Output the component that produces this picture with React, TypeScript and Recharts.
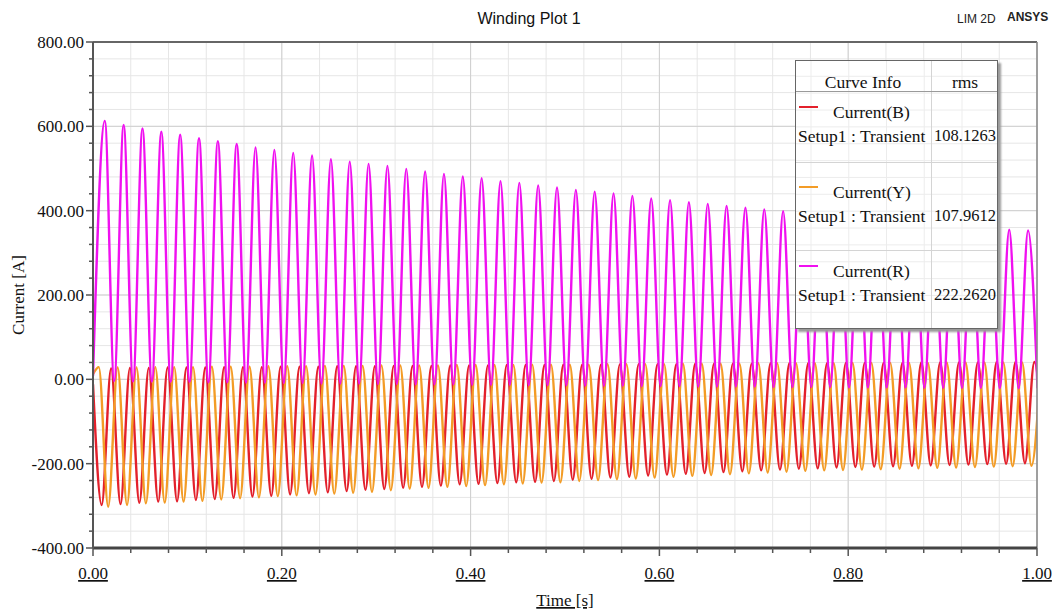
import React from 'react'
import { LineChart, Line, XAxis, YAxis, CartesianGrid, ReferenceLine } from 'recharts'

// cycle timing (50 Hz winding currents)
const PERIOD = 0.01996
const R_PEAK0 = 0.0125
const B_SHIFT = -0.0033
const Y_SHIFT = 0.0036

// Current(R): peak and following trough of every cycle
const rStart = 8
const rPeaks = [
  613, 603, 595, 587, 580, 572, 565, 558, 550, 544,
  537, 531, 522, 516, 511, 506, 499, 493, 487, 481,
  477, 470, 466, 460, 455, 449, 445, 441, 435, 429,
  425, 420, 416, 411, 407, 403, 399, 395, 391, 387,
  383, 379, 375, 372, 368, 365, 362, 359, 355, 353,
]
const rTroughs = [
  -4, -5, -5, -6, -6, -7, -7, -8, -8, -9,
  -9, -10, -10, -10, -11, -11, -12, -12, -12, -13,
  -13, -13, -14, -14, -14, -15, -15, -15, -16, -16,
  -16, -17, -17, -17, -17, -18, -18, -18, -18, -19,
  -19, -19, -19, -20, -20, -20, -20, -21, -21, -21,
]

// Current(B): trough and following peak of every cycle
const bStart = -12
const bTroughs = [
  -298, -296, -293, -290, -289, -286, -284, -281, -278, -276,
  -273, -270, -268, -265, -262, -260, -257, -255, -252, -249,
  -248, -246, -244, -243, -241, -238, -236, -233, -231, -228,
  -226, -224, -222, -220, -218, -216, -214, -212, -211, -209,
  -208, -207, -206, -205, -204, -203, -202, -201, -200, -199,
  -198,
]
const bPeaks = [
  26, 27, 27, 28, 28, 28, 29, 29, 29, 30,
  30, 30, 31, 31, 31, 32, 32, 32, 33, 33,
  33, 34, 34, 34, 35, 35, 35, 35, 36, 36,
  36, 37, 37, 37, 37, 38, 38, 38, 38, 39,
  39, 39, 39, 40, 40, 40, 40, 41, 41, 41,
]

// Current(Y): peak and following trough of every cycle
const yStart = 12
const yPeaks = [
  29, 28, 28, 29, 29, 29, 30, 30, 30, 31,
  31, 31, 32, 32, 32, 33, 33, 33, 33, 34,
  34, 34, 34, 35, 35, 35, 35, 36, 36, 36,
  36, 37, 37, 37, 37, 38, 38, 38, 38, 38,
  39, 39, 39, 39, 39, 40, 40, 40, 40, 40,
  40,
]
const yTroughs = [
  -302, -298, -294, -292, -290, -288, -285, -282, -280, -277,
  -275, -273, -271, -269, -267, -263, -259, -257, -255, -253,
  -251, -249, -247, -245, -244, -241, -239, -237, -235, -233,
  -231, -229, -227, -225, -223, -221, -219, -217, -216, -215,
  -214, -213, -212, -211, -210, -209, -208, -207, -206, -205,
]

const xTicks = [
  0, 0.04, 0.08, 0.12, 0.16, 0.2, 0.24, 0.28, 0.32, 0.36, 0.4, 0.44, 0.48,
  0.52, 0.56, 0.6, 0.64, 0.68, 0.72, 0.76, 0.8, 0.84, 0.88, 0.92, 0.96, 1,
]
const xMajor = [0, 0.2, 0.4, 0.6, 0.8, 1]
const yTicks = [
  -400, -360, -320, -280, -240, -200, -160, -120, -80, -40, 0, 40, 80, 120,
  160, 200, 240, 280, 320, 360, 400, 440, 480, 520, 560, 600, 640, 680, 720, 760, 800,
]
const yMajor = [-400, -200, 0, 200, 400, 600, 800]

const legendRows = [
  { name: 'Current(B)', color: '#e3202b', rms: '108.1263' },
  { name: 'Current(Y)', color: '#f39c26', rms: '107.9612' },
  { name: 'Current(R)', color: '#f010f0', rms: '222.2620' },
]

type Row = { t: number; r?: number; b?: number; y?: number }

function buildRows(): Row[] {
  const rows: Row[] = [{ t: 0, r: rStart }, { t: 0, b: bStart }, { t: 0, y: yStart }]
  rPeaks.forEach((v, k) => {
    const t = R_PEAK0 + k * PERIOD
    rows.push({ t, r: v })
    rows.push({ t: t + PERIOD / 2, r: rTroughs[k] })
  })
  bTroughs.forEach((v, k) => {
    const t = R_PEAK0 + B_SHIFT + k * PERIOD
    rows.push({ t, b: v })
    if (k < bPeaks.length) rows.push({ t: t + PERIOD / 2, b: bPeaks[k] })
  })
  yPeaks.forEach((v, k) => {
    const t = R_PEAK0 + Y_SHIFT - PERIOD / 2 + k * PERIOD
    rows.push({ t, y: v })
    if (k < yTroughs.length) rows.push({ t: t + PERIOD / 2, y: yTroughs[k] })
  })
  return rows.sort((a, b) => a.t - b.t)
}

const data = buildRows()
const serif = '"Liberation Serif", "Times New Roman", serif'
const sans = '"Liberation Sans", Arial, sans-serif'

const isMajorX = (v: number) => xMajor.some((m) => Math.abs(m - v) < 1e-6)

function XTick({ x, y, payload }: any) {
  const major = isMajorX(payload.value)
  return (
    <g>
      <line x1={x} x2={x} y1={y} y2={y + (major ? 8 : 5)} stroke="#555" strokeWidth={1.5} />
      {major && (
        <text
          x={x}
          y={y + 31}
          textAnchor="middle"
          fontFamily={serif}
          fontSize={17}
          fill="#111"
          textDecoration="underline"
        >
          {payload.value.toFixed(2)}
        </text>
      )}
    </g>
  )
}

function YTick({ x, y, payload }: any) {
  const major = yMajor.includes(payload.value)
  return (
    <g>
      <line x1={x} x2={x - (major ? 7 : 4)} y1={y} y2={y} stroke="#555" strokeWidth={1.5} />
      {major && (
        <text x={x - 9} y={y + 6} textAnchor="end" fontFamily={serif} fontSize={17} fill="#111">
          {payload.value.toFixed(2)}
        </text>
      )}
    </g>
  )
}

function Legend() {
  const txt = (left: number, top: number, s: string, extra: any = {}) => (
    <div
      style={{
        position: 'absolute',
        left,
        top: top - 10,
        lineHeight: '20px',
        whiteSpace: 'nowrap',
        ...extra,
      }}
    >
      {s}
    </div>
  )
  const rowTops = [0, 80, 159]
  return (
    <div
      style={{
        position: 'absolute',
        left: 795,
        top: 60,
        width: 203,
        height: 269,
        boxSizing: 'border-box',
        border: '1px solid #666',
        background: '#fff',
        backgroundImage:
          'linear-gradient(90deg, #ececec 1px, transparent 1px), linear-gradient(180deg, #ececec 1px, transparent 1px)',
        backgroundSize: '37.76px 100%, 100% 16.87px',
        backgroundPosition: '14.5px 0, 0 14.8px',
        boxShadow: '3px 3px 2px #9a9a9a',
        fontFamily: serif,
        fontSize: 17.5,
        color: '#111',
      }}
    >
      <div style={{ position: 'absolute', left: 135, top: 0, bottom: 0, width: 1, background: '#d4d4d4' }} />
      <div style={{ position: 'absolute', left: 0, right: 0, top: 30, height: 1, background: '#9a9a9a' }} />
      <div style={{ position: 'absolute', left: 0, right: 0, top: 101, height: 1, background: '#d4d4d4' }} />
      <div style={{ position: 'absolute', left: 0, right: 0, top: 189, height: 1, background: '#d4d4d4' }} />
      {txt(0, 21, 'Curve Info', { width: 134, textAlign: 'center' })}
      {txt(136, 21, 'rms', { width: 66, textAlign: 'center' })}
      {legendRows.map((row, i) => (
        <React.Fragment key={row.name}>
          <div
            style={{
              position: 'absolute',
              left: 3,
              top: 45 + rowTops[i],
              width: 19,
              height: 2,
              background: row.color,
            }}
          />
          {txt(37, 51 + rowTops[i], row.name)}
          {txt(2, 75 + rowTops[i], 'Setup1 : Transient')}
          {txt(138, 75 + rowTops[i], row.rms, { fontSize: 16.5 })}
        </React.Fragment>
      ))}
    </div>
  )
}

export default function App() {
  return (
    <div style={{ position: 'absolute', left: 0, top: 0, width: 1058, height: 614, background: '#fff' }}>
      <div
        style={{
          position: 'absolute',
          left: 0,
          width: 1058,
          top: 10,
          textAlign: 'center',
          fontFamily: sans,
          fontSize: 16,
          color: '#111',
        }}
      >
        Winding Plot 1
      </div>
      <div style={{ position: 'absolute', left: 957, top: 12, fontFamily: sans, fontSize: 12, color: '#222' }}>
        LIM 2D
      </div>
      <div
        style={{
          position: 'absolute',
          left: 1007,
          top: 10,
          fontFamily: sans,
          fontSize: 12,
          fontWeight: 'bold',
          color: '#222',
        }}
      >
        ANSYS
      </div>

      <LineChart width={1058} height={614} data={data} margin={{ top: 42, right: 21, bottom: 0, left: 0 }}>
        <CartesianGrid stroke="#e6e6e6" strokeWidth={1} />
        {xMajor.map((v) => (
          <ReferenceLine key={'vx' + v} x={v} stroke="#cfcfcf" strokeWidth={1} />
        ))}
        {yMajor.map((v) => (
          <ReferenceLine key={'hy' + v} y={v} stroke="#cfcfcf" strokeWidth={1} />
        ))}
        <XAxis
          dataKey="t"
          type="number"
          domain={[0, 1]}
          ticks={xTicks}
          allowDataOverflow
          height={66}
          tickSize={0}
          tickMargin={0}
          tickLine={false}
          axisLine={{ stroke: '#444', strokeWidth: 3 }}
          tick={<XTick />}
          interval={0}
          label={{
            value: 'Time [s]',
            position: 'insideBottom',
            offset: 8,
            style: { fontFamily: serif, fontSize: 17, fill: '#111', textDecoration: 'underline' },
          }}
        />
        <YAxis
          type="number"
          domain={[-400, 800]}
          ticks={yTicks}
          allowDataOverflow
          width={93}
          tickSize={0}
          tickMargin={0}
          tickLine={false}
          axisLine={{ stroke: '#555', strokeWidth: 2 }}
          tick={<YTick />}
          interval={0}
          label={{
            value: 'Current [A]',
            angle: -90,
            position: 'insideLeft',
            offset: 18,
            style: { fontFamily: serif, fontSize: 17, fill: '#111', textAnchor: 'middle' },
          }}
        />
        <Line
          dataKey="b"
          type="monotone"
          stroke="#e3202b"
          strokeWidth={2.4}
          dot={false}
          activeDot={false}
          connectNulls
          isAnimationActive={false}
        />
        <Line
          dataKey="y"
          type="monotone"
          stroke="#f39c26"
          strokeWidth={2.4}
          dot={false}
          activeDot={false}
          connectNulls
          isAnimationActive={false}
        />
        <Line
          dataKey="r"
          type="monotone"
          stroke="#f010f0"
          strokeWidth={2.4}
          dot={false}
          activeDot={false}
          connectNulls
          isAnimationActive={false}
        />
        <ReferenceLine y={800} stroke="#666" strokeWidth={2} />
        <ReferenceLine x={1} stroke="#888" strokeWidth={1.5} />
      </LineChart>
      <Legend />
    </div>
  )
}
